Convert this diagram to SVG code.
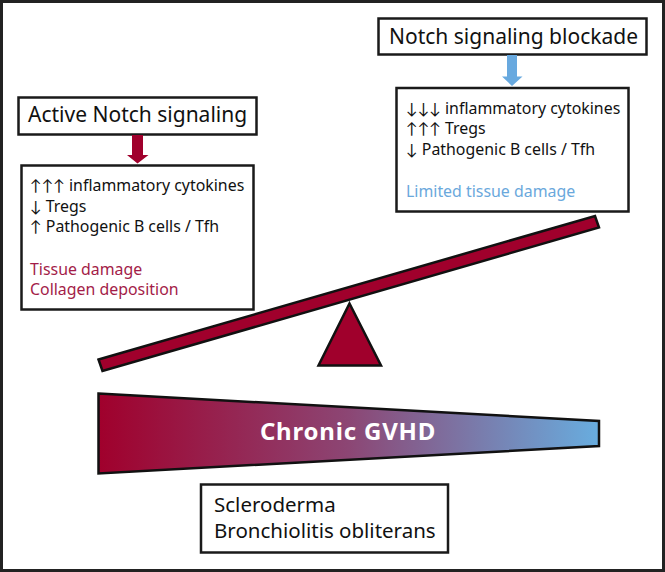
<svg xmlns="http://www.w3.org/2000/svg" width="665" height="572" viewBox="0 0 665 572">
<style>
.box{fill:#fff;stroke:#1a1a1a;stroke-width:2.5}
.t{font-family:"Noto Sans","Liberation Sans",sans-serif;fill:#111}
.big{font-size:21px}
.mid{font-size:20.5px}
.sm{font-size:15.9px}
.ar{font-family:Lato,"DejaVu Sans",sans-serif;font-size:15.5px}
.red{fill:#a31c48}
.blue{fill:#6aa8dc}
</style>
<defs>
<linearGradient id="g" x1="98" y1="0" x2="599" y2="0" gradientUnits="userSpaceOnUse">
<stop offset="0" stop-color="#a0002c"/>
<stop offset="0.5" stop-color="#8c4674"/>
<stop offset="1" stop-color="#68addf"/>
</linearGradient>
</defs>
<rect x="1.5" y="1.5" width="662" height="569" fill="#fff" stroke="#222" stroke-width="3"/>
<g id="active">
<rect class="box" x="18.5" y="97.5" width="238" height="37"/>
<text class="t big" x="28" y="122">Active Notch signaling</text>
</g>
<g id="blockade">
<rect class="box" x="378.5" y="18.5" width="268" height="36"/>
<text class="t big" x="389" y="43.5">Notch signaling blockade</text>
</g>
<g id="left-effects">
<rect class="box" x="21.5" y="165.5" width="232" height="144"/>
<text class="t sm" x="30" y="191"><tspan class="ar">↑↑↑</tspan> inflammatory cytokines</text>
<text class="t sm" x="30" y="212"><tspan class="ar">↓</tspan> Tregs</text>
<text class="t sm" x="30" y="232"><tspan class="ar">↑</tspan> Pathogenic B cells / Tfh</text>
<text class="t sm red" x="30" y="274.5">Tissue damage</text>
<text class="t sm red" x="30" y="295">Collagen deposition</text>
</g>
<g id="right-effects">
<rect class="box" x="396.5" y="88" width="232" height="123.5"/>
<text class="t sm" x="406" y="113.5"><tspan class="ar">↓↓↓</tspan> inflammatory cytokines</text>
<text class="t sm" x="406" y="134"><tspan class="ar">↑↑↑</tspan> Tregs</text>
<text class="t sm" x="406" y="155"><tspan class="ar">↓</tspan> Pathogenic B cells / Tfh</text>
<text class="t sm blue" x="406" y="197">Limited tissue damage</text>
</g>
<g id="connectors">
<polygon points="132,135 143,135 143,155 148.5,155 137.5,163.5 127,155 132,155" fill="#a0002c"/>
<polygon points="507,55 517,55 517,76.5 522.5,76.5 512,86 502,76.5 507,76.5" fill="#68a9df"/>
</g>
<g id="seesaw">
<polygon points="98.5,359.5 595,216 599,227.5 102.5,371" fill="#a0002c" stroke="#111" stroke-width="2.5" stroke-linejoin="miter"/>
<polygon points="349.5,303.5 381,365.5 318.5,365.5" fill="#a0002c" stroke="#111" stroke-width="2.5"/>
</g>
<g id="gvhd">
<polygon points="98.5,393.5 599,421 599,446 98.5,473.5" fill="url(#g)" stroke="#111" stroke-width="2.5"/>
<text x="348" y="440" text-anchor="middle" font-family="'Noto Sans','Liberation Sans',sans-serif" font-weight="bold" font-size="24px" letter-spacing="0.8" fill="#fff">Chronic GVHD</text>
</g>
<g id="manifestations">
<rect class="box" x="201" y="484.5" width="247" height="68"/>
<text class="t mid" x="214" y="512">Scleroderma</text>
<text class="t mid" x="214" y="538">Bronchiolitis obliterans</text>
</g>
</svg>
